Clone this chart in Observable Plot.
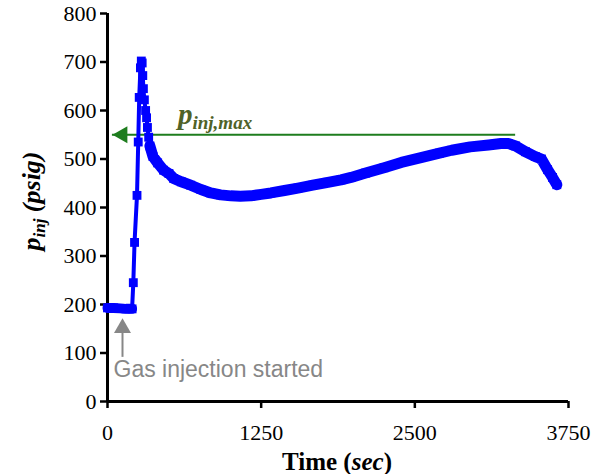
<!DOCTYPE html>
<html>
<head>
<meta charset="utf-8">
<script src="https://cdn.jsdelivr.net/npm/d3@7"></script>
<script src="https://cdn.jsdelivr.net/npm/@observablehq/plot@0.6"></script>
<style>
  html, body { margin: 0; padding: 0; background: #fff; }
  #chart { width: 616px; height: 474px; }
  #chart svg text { font-family: "Liberation Serif", serif !important; }
  #chart svg text.sans { font-family: "Liberation Sans", sans-serif !important; }
</style>
</head>
<body>
<div id="chart"></div>
<script>
// Injection pressure history (time in seconds, pressure in psig)
const timeSec = [
  0, 50, 100, 150, 200,
  210, 220, 240, 250, 258, 268, 275, 282, 287, 292, 300, 310, 318, 325, 335, 345,
  370, 408, 456, 500, 538, 600, 677, 760, 840, 920, 1003, 1080, 1166, 1250, 1329,
  1440, 1549, 1670, 1793, 1900, 1981, 2100, 2250, 2390, 2550, 2700, 2800, 2950,
  3100, 3200, 3260, 3320, 3400, 3480, 3530, 3580, 3620, 3655
];
const pInj = [
  193, 193, 192, 191, 191,
  245, 328, 425, 535, 627, 688, 702, 698, 672, 645, 622, 600, 585, 565, 545, 527,
  505, 492, 477, 470, 460, 453, 446, 437, 430, 426, 424, 423, 424, 427, 430,
  435, 440, 446, 452, 457, 462, 471, 482, 493, 503, 512, 518, 525,
  529, 532, 532, 527, 515, 505, 500, 478, 462, 447
];

// Axis ticks
const xTicks = [0, 1250, 2500, 3750];
const yTicks = [0, 100, 200, 300, 400, 500, 600, 700, 800];

// Annotations
const pInjMax = 550;            // psig, level of the maximum-pressure marker
const pInjMaxSpan = [40, 3320]; // time span of the marker line (arrow tip at left)
const injectionStart = 122;     // sec
const injArrowSpan = [91, 172]; // psig, tail and tip of the start arrow
const injLabel = "Gas injection started";

const data = timeSec.map((t, i) => ({t, p: pInj[i]}));
const flatPart = data.filter(d => d.t <= 200);
const densePart = data.filter(d => d.t >= 345);

const blue = "#0000ff";
const green = "#1e7d1e";
const gray = "#878787";

const chart = Plot.plot({
  width: 616,
  height: 474,
  marginLeft: 107,
  marginRight: 48,
  marginTop: 13,
  marginBottom: 73,
  style: {fontSize: "22px", color: "#000", background: "#fff"},
  x: {domain: [0, 3750], ticks: xTicks},
  y: {domain: [0, 800], ticks: yTicks},
  marks: [
    Plot.axisX({ticks: xTicks, tickFormat: d => String(d), tickSize: 7, tickPadding: 16, strokeWidth: 2.5,
      label: null, fontSize: 22, fill: "#000"}),
    Plot.axisY({ticks: yTicks, tickFormat: d => String(d), tickSize: 7, tickPadding: 4, strokeWidth: 2.5,
      label: null, fontSize: 22, fill: "#000"}),
    Plot.ruleY([0], {stroke: "#000", strokeWidth: 3}),
    Plot.ruleX([0], {stroke: "#000", strokeWidth: 3}),
    // maximum-pressure marker
    Plot.ruleY([pInjMax], {x1: pInjMaxSpan[0], x2: pInjMaxSpan[1], stroke: green, strokeWidth: 2}),
    Plot.dot([pInjMax], {x: pInjMaxSpan[0], y: d => d, symbol: "triangle", rotate: -90, r: 6.4, dx: 10, fill: green, stroke: null}),
    // injection start arrow
    Plot.ruleX([injectionStart], {y1: injArrowSpan[0], y2: injArrowSpan[1] - 20, stroke: gray, strokeWidth: 2}),
    Plot.dot([injectionStart], {x: d => d, y: injArrowSpan[1], symbol: "triangle", r: 6.3, dy: 10, fill: gray, stroke: null}),
    Plot.text([injLabel], {x: 0, y: 66, text: d => d, textAnchor: "start", dx: 6, fill: gray, fontSize: 23,
      className: "start-label"}),
    // pressure series
    Plot.line(data, {x: "t", y: "p", stroke: blue, strokeWidth: 4, strokeLinejoin: "round"}),
    Plot.line(flatPart, {x: "t", y: "p", stroke: blue, strokeWidth: 10}),
    Plot.line(densePart, {x: "t", y: "p", stroke: blue, strokeWidth: 11, strokeLinejoin: "round", strokeLinecap: "round"}),
    Plot.dot(data, {x: "t", y: "p", symbol: "square", r: 5, fill: blue, stroke: null})
  ]
});

const svg = d3.select(chart);

// the injection label is set in a sans-serif face
svg.selectAll("text").filter(function() { return this.textContent === injLabel; }).classed("sans", true);

// y-axis title: p_inj (psig)
const yTitle = svg.append("text")
  .attr("transform", "translate(40,201) rotate(-90)")
  .attr("text-anchor", "middle")
  .attr("font-weight", "bold")
  .attr("font-style", "italic")
  .attr("font-size", 26)
  .attr("fill", "#000");
yTitle.append("tspan").text("p");
yTitle.append("tspan").attr("font-size", 17).attr("dy", 5).text("inj");
yTitle.append("tspan").attr("dy", -5).text(" (psig)");

// x-axis title: Time (sec)
const xTitle = svg.append("text")
  .attr("x", 337)
  .attr("y", 470)
  .attr("text-anchor", "middle")
  .attr("font-weight", "bold")
  .attr("font-size", 25)
  .attr("fill", "#000");
xTitle.append("tspan").text("Time (");
xTitle.append("tspan").attr("font-style", "italic").text("sec");
xTitle.append("tspan").text(")");

// label for the maximum-pressure marker
const maxLabel = svg.append("text")
  .attr("x", 178)
  .attr("y", 124)
  .attr("text-anchor", "start")
  .attr("font-weight", "bold")
  .attr("font-style", "italic")
  .attr("font-size", 29)
  .attr("fill", "#4f6228");
maxLabel.append("tspan").text("p");
maxLabel.append("tspan").attr("font-size", 19).attr("dy", 5).text("inj,max");

document.getElementById("chart").appendChild(chart);
</script>
</body>
</html>
